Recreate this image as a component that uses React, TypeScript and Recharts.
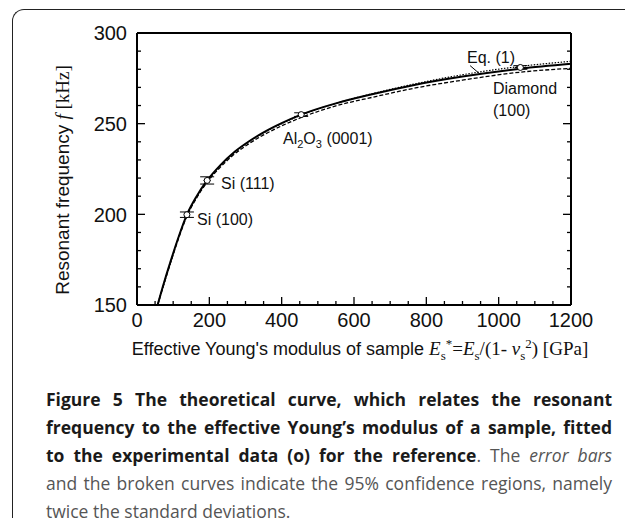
import { ComposedChart, Line, Scatter, ErrorBar, XAxis, YAxis, ReferenceLine } from "recharts"

// fitted curve (solid) and 95% confidence curves
const curveE = [57, 75, 92, 115, 138, 165, 194, 230, 270, 310, 350, 400, 454, 550, 650, 770, 900, 1060, 1200]
const fitF = [150, 162.5, 173.5, 187.5, 199.8, 210, 218.7, 227, 234.5, 240.3, 245.2, 250.3, 255, 261.2, 266.2, 271.5, 276, 280.3, 283]
const upperF = [150, 162.2, 173.2, 187.2, 199.5, 209.7, 218.4, 226.7, 234.2, 240, 244.9, 250, 254.7, 261.2, 266.5, 272, 277, 281.6, 284.4]
const lowerF = [150, 161.9, 172.8, 186.8, 199, 209.1, 217.7, 225.9, 233.3, 239, 243.8, 248.8, 253.4, 259.8, 264.5, 269.7, 274, 278.4, 280.5]

// reference samples
const sampleNames = ["Si (100)", "Si (111)", "Al2O3 (0001)", "Diamond (100)"]
const sampleE = [138, 194, 454, 1060]
const sampleF = [199.8, 218.7, 255, 281]
const sampleErrE = [5, 10, 8, 15]
const sampleErrF = [1.5, 2, 1, 1]

const xTicks = [0, 50, 100, 150, 200, 250, 300, 350, 400, 450, 500, 550, 600, 650, 700, 750, 800, 850, 900, 950, 1000, 1050, 1100, 1150, 1200]
const yTicks = [150, 160, 170, 180, 190, 200, 210, 220, 230, 240, 250, 260, 270, 280, 290, 300]

const fitData = curveE.map((e, i) => ({ e, f: fitF[i] }))
const upperData = curveE.map((e, i) => ({ e, f: upperF[i] }))
const lowerData = curveE.map((e, i) => ({ e, f: lowerF[i] }))
const samples = sampleNames.map((name, i) => ({
  name,
  e: sampleE[i],
  f: sampleF[i],
  ee: sampleErrE[i],
  ef: sampleErrF[i],
}))

const sans = "'Liberation Sans', Arial, sans-serif"
const serif = "'Liberation Serif', 'Times New Roman', serif"

const BottomTick = (props: any) => {
  const { x, y, payload } = props
  const major = payload.value % 200 === 0
  return (
    <g>
      <line x1={x} x2={x} y1={y} y2={y - (major ? 8 : 4)} stroke="#000" strokeWidth={1.3} />
      {major && (
        <text x={x} y={y + 22} textAnchor="middle" fontSize={20} fontFamily={sans} fill="#111">
          {payload.value}
        </text>
      )}
    </g>
  )
}

const TopTick = (props: any) => {
  const { x, y, payload } = props
  const major = payload.value % 200 === 0
  return <line x1={x} x2={x} y1={y} y2={y + (major ? 8 : 4)} stroke="#000" strokeWidth={1.3} />
}

const LeftTick = (props: any) => {
  const { x, y, payload } = props
  const major = payload.value % 50 === 0
  return (
    <g>
      <line x1={x} x2={x + (major ? 8 : 4)} y1={y} y2={y} stroke="#000" strokeWidth={1.3} />
      {major && (
        <text x={x - 10} y={y} dy="0.36em" textAnchor="end" fontSize={20} fontFamily={sans} fill="#111">
          {payload.value}
        </text>
      )}
    </g>
  )
}

const RightTick = (props: any) => {
  const { x, y, payload } = props
  const major = payload.value % 50 === 0
  return <line x1={x} x2={x - (major ? 8 : 4)} y1={y} y2={y} stroke="#000" strokeWidth={1.3} />
}

const Marker = (props: any) => <circle cx={props.cx} cy={props.cy} r={3} fill="#fff" stroke="#000" strokeWidth={1} />

const noteStyle: React.CSSProperties = {
  position: "absolute",
  fontFamily: sans,
  fontSize: 16,
  color: "#111",
  lineHeight: "18px",
  whiteSpace: "nowrap",
}

const capLine: React.CSSProperties = { textAlign: "justify", textAlignLast: "justify", height: 28 }

const axisLine = { stroke: "#000", strokeWidth: 2 }

export default function App() {
  return (
    <div style={{ position: "absolute", left: 0, top: 0, width: 625, height: 523, background: "#fff", overflow: "hidden" }}>
      <div
        style={{
          position: "absolute",
          left: 12,
          top: 9,
          width: 800,
          height: 508,
          borderTop: "1.5px solid #222",
          borderLeft: "1.5px solid #222",
          borderTopLeftRadius: 12,
        }}
      />

      <div style={{ position: "absolute", left: 0, top: 0 }}>
        <ComposedChart width={625} height={380} margin={{ top: 32, right: 53, bottom: 74, left: 136 }}>
          <XAxis
            dataKey="e"
            type="number"
            domain={[0, 1200]}
            ticks={xTicks}
            interval={0}
            height={1}
            tickSize={0}
            tickMargin={0}
            tickLine={false}
            tick={<BottomTick />}
            axisLine={axisLine}
            allowDataOverflow
          />
          <XAxis
            xAxisId="top"
            orientation="top"
            type="number"
            domain={[0, 1200]}
            ticks={xTicks}
            interval={0}
            height={1}
            tickSize={0}
            tickMargin={0}
            tickLine={false}
            tick={<TopTick />}
            axisLine={axisLine}
            allowDataOverflow
          />
          <YAxis
            type="number"
            domain={[150, 300]}
            ticks={yTicks}
            interval={0}
            width={1}
            tickSize={0}
            tickMargin={0}
            tickLine={false}
            tick={<LeftTick />}
            axisLine={axisLine}
            allowDataOverflow
          />
          <YAxis
            yAxisId="right"
            orientation="right"
            type="number"
            domain={[150, 300]}
            ticks={yTicks}
            interval={0}
            width={1}
            tickSize={0}
            tickMargin={0}
            tickLine={false}
            tick={<RightTick />}
            axisLine={axisLine}
            allowDataOverflow
          />
          <Line data={upperData} dataKey="f" type="monotone" stroke="#000" strokeWidth={1.2} strokeDasharray="1.5 1.5" dot={false} isAnimationActive={false} />
          <Line data={lowerData} dataKey="f" type="monotone" stroke="#000" strokeWidth={1.3} strokeDasharray="4 2" dot={false} isAnimationActive={false} />
          <Line data={fitData} dataKey="f" type="monotone" stroke="#000" strokeWidth={2} dot={false} isAnimationActive={false} />
          <ReferenceLine segment={[{ x: 921, y: 282 }, { x: 948, y: 277.4 }]} stroke="#000" strokeWidth={1} />
          <Scatter data={samples} dataKey="f" shape={<Marker />} isAnimationActive={false}>
            <ErrorBar dataKey="ef" direction="y" width={7} stroke="#000" strokeWidth={1} />
            <ErrorBar dataKey="ee" direction="x" width={0} stroke="#000" strokeWidth={1} />
          </Scatter>
        </ComposedChart>
      </div>

      <svg width={625} height={380} style={{ position: "absolute", left: 0, top: 0, pointerEvents: "none" }}>
        <text transform="translate(69,180) rotate(-90)" textAnchor="middle" fontSize={19} fontFamily={sans} fill="#111">
          Resonant frequency{" "}
          <tspan fontFamily={serif} fontStyle="italic">f</tspan>
          <tspan fontFamily={serif}> [kHz]</tspan>
        </text>
      </svg>

      <div style={{ position: "absolute", left: 60, width: 600, top: 336, textAlign: "center", fontFamily: sans, fontSize: 18, color: "#111", whiteSpace: "nowrap" }}>
        Effective Young's modulus of sample{" "}
        <span style={{ fontFamily: serif, fontSize: 19 }}>
          <i>E</i>
          <sub style={{ fontSize: 13 }}>s</sub>
          <sup style={{ fontSize: 13 }}>*</sup>=<i>E</i>
          <sub style={{ fontSize: 13 }}>s</sub>/(1- <i>ν</i>
          <sub style={{ fontSize: 13 }}>s</sub>
          <sup style={{ fontSize: 13 }}>2</sup>) [GPa]
        </span>
      </div>

      <div style={{ ...noteStyle, left: 467, top: 49 }}>Eq. (1)</div>
      <div style={{ ...noteStyle, left: 493, top: 80 }}>Diamond</div>
      <div style={{ ...noteStyle, left: 493, top: 102 }}>(100)</div>
      <div style={{ ...noteStyle, left: 283, top: 130 }}>
        Al<sub style={{ fontSize: 11 }}>2</sub>O<sub style={{ fontSize: 11 }}>3</sub> (0001)
      </div>
      <div style={{ ...noteStyle, left: 221, top: 175 }}>Si (111)</div>
      <div style={{ ...noteStyle, left: 197, top: 211 }}>Si (100)</div>

      <div style={{ position: "absolute", left: 46, top: 385, width: 566, fontFamily: "'Open Sans', sans-serif", fontSize: 17.5, lineHeight: "28px", color: "#555" }}>
        <div style={capLine}>
          <b style={{ color: "#1a1a1a" }}>Figure 5 The theoretical curve, which relates the resonant</b>
        </div>
        <div style={capLine}>
          <b style={{ color: "#1a1a1a" }}>frequency to the effective Young’s modulus of a sample, fitted</b>
        </div>
        <div style={capLine}>
          <b style={{ color: "#1a1a1a" }}>to the experimental data (o) for the reference</b>. The <i>error bars</i>
        </div>
        <div style={capLine}>and the broken curves indicate the 95% confidence regions, namely</div>
        <div>twice the standard deviations.</div>
      </div>
    </div>
  )
}
